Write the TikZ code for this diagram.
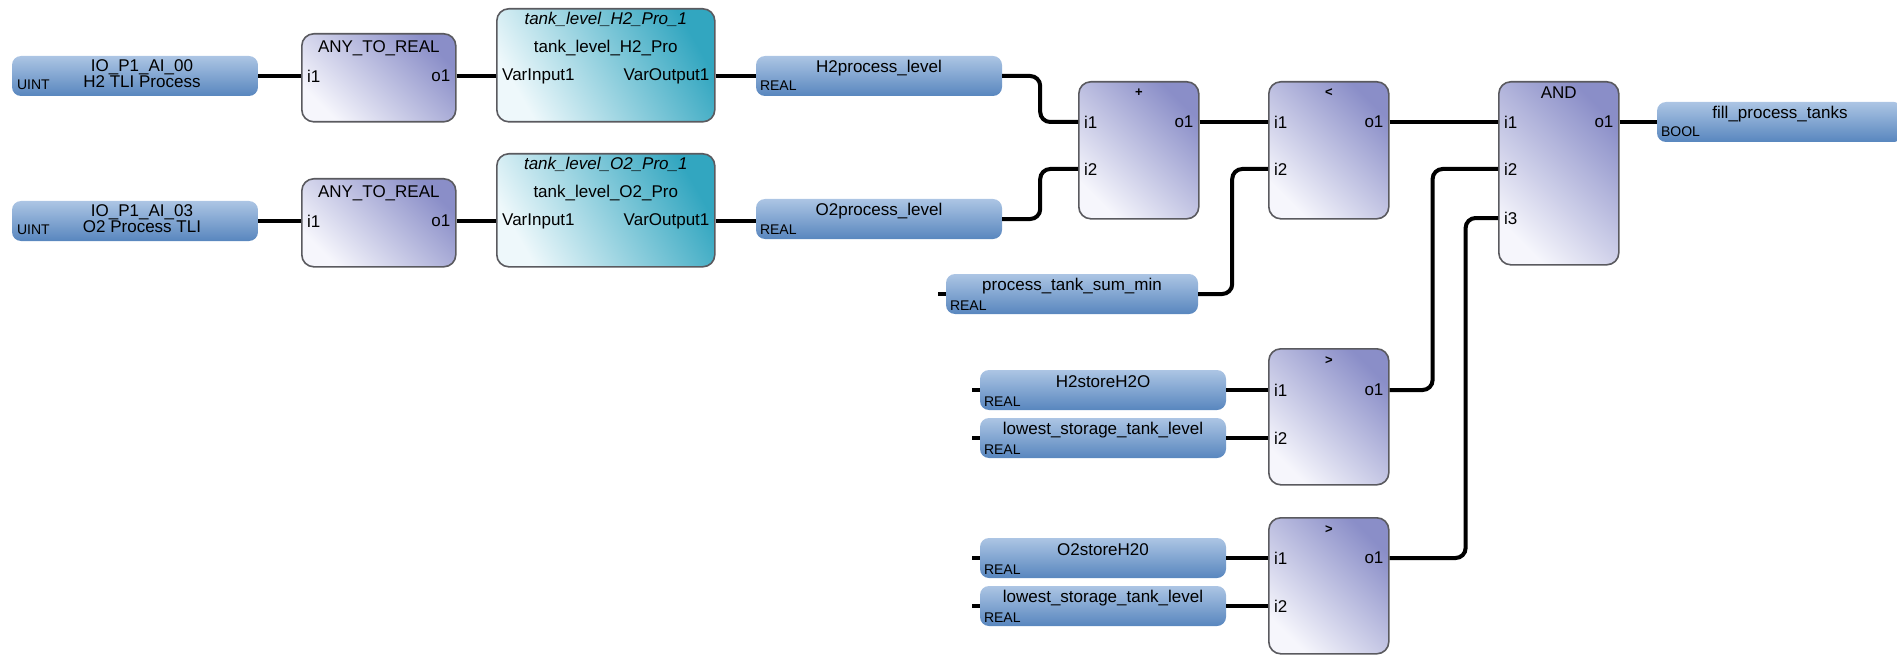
\documentclass[tikz,border=0pt]{standalone}
\usepackage{fontspec}
\setmainfont{Liberation Sans}
\usepackage{tikz}
\usetikzlibrary{positioning,calc}
\definecolor{vTop}{RGB}{172,197,228}
\definecolor{vBot}{RGB}{88,134,190}
\definecolor{bLight}{RGB}{246,246,252}
\definecolor{bDark}{RGB}{138,142,200}
\definecolor{fLight}{RGB}{238,248,251}
\definecolor{fDark}{RGB}{50,166,192}
\definecolor{bEdge}{RGB}{90,90,95}

\begin{document}
\begin{tikzpicture}[x=1pt, y=-1pt,
    font=\fontsize{17}{15}\selectfont,
    blk/.style  ={rectangle, rounded corners=12pt, draw=bEdge, line width=1.6pt,
                  anchor=north west, minimum width=120pt, minimum height=137pt,
                  top color=bDark, bottom color=bLight, shading angle=-45},
    fb/.style   ={blk, minimum width=218pt, minimum height=113pt,
                  top color=fDark, bottom color=fLight, shading angle=-60},
    var/.style  ={rectangle, rounded corners=9pt, minimum width=246pt,
                  minimum height=40pt, top color=vTop, bottom color=vBot},
    vname/.style={inner sep=0pt, align=center},
    vtype/.style={inner sep=0pt, anchor=south west, font=\fontsize{14}{14}\selectfont},
    port/.style ={inner sep=6pt},
    title/.style={inner sep=0pt},
    sym/.style  ={inner sep=0pt, font=\fontsize{13}{13}\selectfont\bfseries},
    wire/.style ={line width=4pt, rounded corners=10pt}
]
\useasboundingbox (0,0) rectangle (1897,655);

% variables
\node[var] (io0) at (135,76) {};
\node[vname] at ([xshift=7pt,yshift=2pt]io0.center) {IO\_P1\_AI\_00\\H2 TLI Process};
\node[vtype] at ([xshift=5pt,yshift=6pt]io0.south west) {UINT};
\node[var] (io3) at (135,221) {};
\node[vname] at ([xshift=7pt,yshift=2pt]io3.center) {IO\_P1\_AI\_03\\O2 Process TLI};
\node[vtype] at ([xshift=5pt,yshift=6pt]io3.south west) {UINT};

\node[var] (h2lvl) at (879,76) {};
\node[vname] at ([yshift=8pt]h2lvl.center) {H2process\_level};
\node[vtype] at ([xshift=4pt,yshift=5pt]h2lvl.south west) {REAL};
\node[var] (o2lvl) at (879,219) {};
\node[vname] at ([yshift=8pt]o2lvl.center) {O2process\_level};
\node[vtype] at ([xshift=4pt,yshift=5pt]o2lvl.south west) {REAL};

\node[var, minimum width=252pt] (ptsm) at (1072,294) {};
\node[vname] at ([yshift=8pt]ptsm.center) {process\_tank\_sum\_min};
\node[vtype] at ([xshift=4pt,yshift=4pt]ptsm.south west) {REAL};

\node[var] (h2s) at (1103,390) {};
\node[vname] at ([yshift=8pt]h2s.center) {H2storeH2O};
\node[vtype] at ([xshift=4pt,yshift=4pt]h2s.south west) {REAL};
\node[var] (low1) at (1103,438) {};
\node[vname] at ([yshift=8pt]low1.center) {lowest\_storage\_tank\_level};
\node[vtype] at ([xshift=4pt,yshift=4pt]low1.south west) {REAL};

\node[var] (o2s) at (1103,558) {};
\node[vname] at ([yshift=8pt]o2s.center) {O2storeH20};
\node[vtype] at ([xshift=4pt,yshift=4pt]o2s.south west) {REAL};
\node[var] (low2) at (1103,606) {};
\node[vname] at ([yshift=8pt]low2.center) {lowest\_storage\_tank\_level};
\node[vtype] at ([xshift=4pt,yshift=4pt]low2.south west) {REAL};

\node[var] (fill) at (1780,122) {};
\node[vname] at ([yshift=8pt]fill.center) {fill\_process\_tanks};
\node[vtype] at ([xshift=4pt,yshift=5pt]fill.south west) {BOOL};

% blocks
\node[blk, minimum width=154pt, minimum height=88pt] (any1) at (301,33) {};
\node[title, below=7pt of any1.north] {ANY\_TO\_REAL};
\node[port, anchor=west] (any1-i1) at ([yshift=-43pt]any1.north west) {i1};
\node[port, anchor=east] (any1-o1) at ([yshift=-43pt]any1.north east) {o1};
\node[blk, minimum width=154pt, minimum height=88pt] (any2) at (301,178) {};
\node[title, below=7pt of any2.north] {ANY\_TO\_REAL};
\node[port, anchor=west] (any2-i1) at ([yshift=-43pt]any2.north west) {i1};
\node[port, anchor=east] (any2-o1) at ([yshift=-43pt]any2.north east) {o1};

\node[fb] (tank1) at (496,8) {};
\node[title, below=4pt of tank1.north] {\itshape tank\_level\_H2\_Pro\_1};
\node[title, below=32pt of tank1.north] {tank\_level\_H2\_Pro};
\node[port, anchor=west] (tank1-i1) at ([yshift=-68pt]tank1.north west) {VarInput1};
\node[port, anchor=east] (tank1-o1) at ([yshift=-68pt]tank1.north east) {VarOutput1};
\node[fb] (tank2) at (496,153) {};
\node[title, below=4pt of tank2.north] {\itshape tank\_level\_O2\_Pro\_1};
\node[title, below=32pt of tank2.north] {tank\_level\_O2\_Pro};
\node[port, anchor=west] (tank2-i1) at ([yshift=-68pt]tank2.north west) {VarInput1};
\node[port, anchor=east] (tank2-o1) at ([yshift=-68pt]tank2.north east) {VarOutput1};

\node[blk] (plus) at (1078,81) {};
\node[sym, below=8pt of plus.north] {+};
\node[port, anchor=west] (plus-i1) at ([yshift=-41pt]plus.north west) {i1};
\node[port, anchor=west] (plus-i2) at ([yshift=-88pt]plus.north west) {i2};
\node[port, anchor=east] (plus-o1) at ([yshift=-41pt]plus.north east) {o1};

\node[blk] (lt) at (1268,81) {};
\node[sym, below=8pt of lt.north] {<};
\node[port, anchor=west] (lt-i1) at ([yshift=-41pt]lt.north west) {i1};
\node[port, anchor=west] (lt-i2) at ([yshift=-88pt]lt.north west) {i2};
\node[port, anchor=east] (lt-o1) at ([yshift=-41pt]lt.north east) {o1};

\node[blk, minimum height=183pt] (and) at (1498,81) {};
\node[title, below=6pt of and.north] {AND};
\node[port, anchor=west] (and-i1) at ([yshift=-41pt]and.north west) {i1};
\node[port, anchor=west] (and-i2) at ([yshift=-88pt]and.north west) {i2};
\node[port, anchor=west] (and-i3) at ([yshift=-137pt]and.north west) {i3};
\node[port, anchor=east] (and-o1) at ([yshift=-41pt]and.north east) {o1};

\node[blk, minimum height=136pt] (gt1) at (1268,348) {};
\node[sym, below=8pt of gt1.north] {>};
\node[port, anchor=west] (gt1-i1) at ([yshift=-42pt]gt1.north west) {i1};
\node[port, anchor=west] (gt1-i2) at ([yshift=-90pt]gt1.north west) {i2};
\node[port, anchor=east] (gt1-o1) at ([yshift=-42pt]gt1.north east) {o1};

\node[blk, minimum height=136pt] (gt2) at (1268,517) {};
\node[sym, below=8pt of gt2.north] {>};
\node[port, anchor=west] (gt2-i1) at ([yshift=-41pt]gt2.north west) {i1};
\node[port, anchor=west] (gt2-i2) at ([yshift=-89pt]gt2.north west) {i2};
\node[port, anchor=east] (gt2-o1) at ([yshift=-41pt]gt2.north east) {o1};

% wires
\draw[wire] (io0.east) -- (any1-i1.west);
\draw[wire] (any1-o1.east) -- (tank1-i1.west);
\draw[wire] (tank1-o1.east) -- (h2lvl.west);
\draw[wire] (io3.east) -- (any2-i1.west);
\draw[wire] (any2-o1.east) -- (tank2-i1.west);
\draw[wire] (tank2-o1.east) -- (o2lvl.west |- tank2-o1);
\draw[wire] (h2lvl.east) -- ++(38,0) |- (plus-i1.west);
\draw[wire] (o2lvl.east) -- ++(38,0) |- (plus-i2.west);
\draw[wire] (plus-o1.east) -- (lt-i1.west);
\draw[wire] (ptsm.east) -- ++(34,0) |- (lt-i2.west);
\draw[wire] (lt-o1.east) -- (and-i1.west);
\draw[wire] (and-o1.east) -- (fill.west);
\draw[wire] (h2s.east) -- (gt1-i1.west);
\draw[wire] (low1.east) -- (gt1-i2.west);
\draw[wire] (o2s.east) -- (gt2-i1.west);
\draw[wire] (low2.east) -- (gt2-i2.west);
\draw[wire] (gt1-o1.east) -- ++(43,0) |- (and-i2.west);
\draw[wire] (gt2-o1.east) -- ++(76,0) |- (and-i3.west);
\draw[wire] (ptsm.west) -- ++(-8,0);
\draw[wire] (h2s.west) -- ++(-8,0);
\draw[wire] (low1.west) -- ++(-8,0);
\draw[wire] (o2s.west) -- ++(-8,0);
\draw[wire] (low2.west) -- ++(-8,0);
\end{tikzpicture}
\end{document}
